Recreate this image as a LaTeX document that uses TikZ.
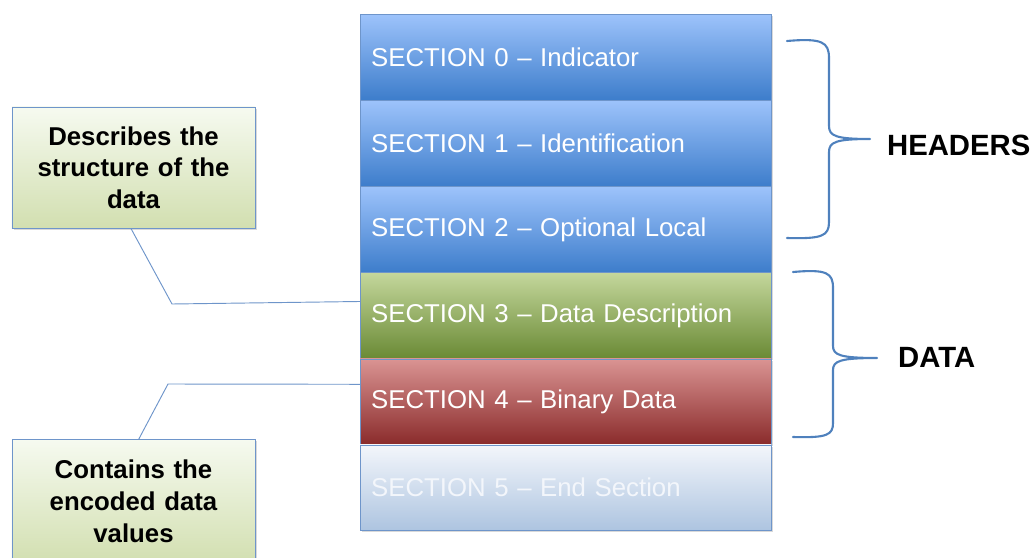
\documentclass[tikz,border=0pt]{standalone}
\usepackage{fontspec}
\setmainfont{Liberation Sans}
\usetikzlibrary{positioning,shadows}

\definecolor{bluetop}{HTML}{9DC3FB}
\definecolor{bluebot}{HTML}{3D7DCB}
\definecolor{greentop}{HTML}{C4D79C}
\definecolor{greenbot}{HTML}{6A8A35}
\definecolor{redtop}{HTML}{DA9493}
\definecolor{redbot}{HTML}{8A2B2B}
\definecolor{endtop}{HTML}{F3F6FB}
\definecolor{endbot}{HTML}{ADC4E0}
\definecolor{notetop}{HTML}{F6FAF0}
\definecolor{notebot}{HTML}{D2DFB0}
\definecolor{edgeblue}{HTML}{6E95CA}
\definecolor{braceblue}{HTML}{4F81BD}

\begin{document}
\begin{tikzpicture}[x=0.03cm, y=-0.03cm]
    % Definizione stili
    \tikzstyle{section}=[draw=edgeblue, minimum width=12.33cm, minimum height=2.57cm, text width=11.67cm, inner xsep=0.33cm, align=left, text=white, font=\fontsize{22}{26}\selectfont, drop shadow={shadow xshift=1.5pt, shadow yshift=-1.5pt, opacity=0.3}]
    \tikzstyle{header}=[section, top color=bluetop, bottom color=bluebot]
    \tikzstyle{note}=[draw=edgeblue, top color=notetop, bottom color=notebot, minimum width=7.29cm, text width=7cm, align=center, font=\fontsize{22}{27}\selectfont\bfseries, drop shadow={shadow xshift=1.5pt, shadow yshift=-1.5pt, opacity=0.3}]
    \tikzstyle{link}=[draw=edgeblue, line width=0.8pt]
    \tikzstyle{curly}=[draw=braceblue, line width=1.8pt, line cap=round, line join=round]
    \tikzstyle{group}=[anchor=west, font=\fontsize{25}{30}\selectfont\bfseries]

    \useasboundingbox (0,0) rectangle (1032,558);
    \clip (0,0) rectangle (1032,558);

    % Sezioni del messaggio
    \node[header, anchor=north west] (sec0) at (360,14) {SECTION 0 -- Indicator};
    \node[header, below=0cm of sec0] (sec1) {SECTION 1 -- Identification};
    \node[header, below=0cm of sec1] (sec2) {SECTION 2 -- Optional Local};
    \node[section, top color=greentop, bottom color=greenbot, below=0cm of sec2] (sec3) {SECTION 3 -- Data Description};
    \node[section, top color=redtop, bottom color=redbot, below=0cm of sec3] (sec4) {SECTION 4 -- Binary Data};
    \node[section, top color=endtop, bottom color=endbot, text=endtop, below=0cm of sec4] (sec5) {SECTION 5 -- End Section};

    % Note esplicative
    \node[note, minimum height=3.63cm] (desc) at (133.5,167.5) {Describes the\\structure of the\\data};
    \node[note, minimum height=3.72cm, anchor=north] (values) at (133.5,439) {Contains the\\encoded data\\values};

    % Collegamenti alle note
    \coordinate (descbend) at (172,304);
    \coordinate (valuesbend) at (168,384);
    \draw[link] ([xshift=-0.08cm]desc.south) -- (descbend) -- ([yshift=0.42cm]sec3.west);
    \draw[link] ([xshift=0.16cm]values.north) -- (valuesbend) -- ([yshift=0.52cm]sec4.west);

    % Parentesi graffe
    \draw[curly] (787,41) .. controls (822,38) and (829,42) .. (829,58) -- (829,126)
        .. controls (829,136) and (836,139) .. (870,139)
        .. controls (836,139) and (829,142) .. (829,152) -- (829,222)
        .. controls (829,236) and (822,239) .. (787,238);
    \draw[curly] (793,272) .. controls (827,269) and (833,273) .. (833,288) -- (833,346)
        .. controls (833,355) and (840,358) .. (877,358)
        .. controls (840,358) and (833,361) .. (833,370) -- (833,423)
        .. controls (833,435) and (827,438) .. (793,437);

    % Etichette dei gruppi
    \node[group] (headers) at (883,145) {HEADERS};
    \node[group] (data) at (894,357) {DATA};
\end{tikzpicture}
\end{document}
